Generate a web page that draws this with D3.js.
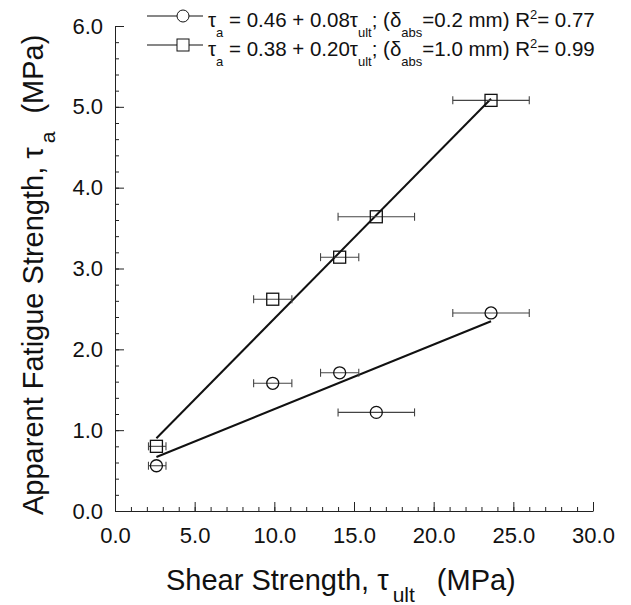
<!DOCTYPE html>
<html>
<head>
<meta charset="utf-8">
<title>Fatigue strength vs shear strength</title>
<style>
  body { margin: 0; background: #fff; }
  text { font-family: "Liberation Sans", Arial, sans-serif; fill: #111; }
</style>
</head>
<body>
<script src="https://cdn.jsdelivr.net/npm/d3@7"></script>
<script>
// shear strength (x) with error range
var tauUlt  = [2.6, 9.9, 14.1, 16.4, 23.6];
var errLow  = [2.1, 8.7, 12.9, 14.0, 21.2];
var errHigh = [3.2, 11.1, 15.3, 18.8, 26.0];
// apparent fatigue strength for the two displacements
var tauA02 = [0.56, 1.58, 1.71, 1.22, 2.45];   // delta_abs = 0.2 mm
var tauA10 = [0.80, 2.62, 3.14, 3.64, 5.08];   // delta_abs = 1.0 mm
// linear fits  tau_a = a + b * tau_ult
var fitA  = [0.46, 0.38];
var fitB  = [0.08, 0.20];
var fitR2 = ["0.77", "0.99"];
var deltaLabels = ["0.2", "1.0"];
var xTicks = [0, 5, 10, 15, 20, 25, 30];
var yTicks = [0, 1, 2, 3, 4, 5, 6];

var width = 631, height = 605;
var mLeft = 115, mRight = 593, mTop = 26, mBottom = 511;

var svg = d3.select("body").append("svg")
    .attr("width", width).attr("height", height);

var x = d3.scaleLinear().domain([0, 30]).range([mLeft, mRight]);
var y = d3.scaleLinear().domain([0, 6]).range([mBottom, mTop]);

// minor ticks
svg.append("g")
    .attr("transform", "translate(0," + mBottom + ")")
    .call(d3.axisTop(x).ticks(30).tickSize(4).tickFormat(""))
    .call(function(g) { g.select(".domain").remove(); });
svg.append("g")
    .attr("transform", "translate(" + mLeft + ",0)")
    .call(d3.axisRight(y).tickValues(d3.range(0, 6.01, 0.2)).tickSize(4).tickFormat(""))
    .call(function(g) { g.select(".domain").remove(); });

// major ticks + labels
var xAxis = svg.append("g")
    .attr("transform", "translate(0," + mBottom + ")")
    .call(d3.axisTop(x).tickValues(xTicks).tickSize(9).tickSizeOuter(0).tickFormat(d3.format(".1f")));
xAxis.selectAll("text").attr("y", 32).attr("font-size", 22);

var yAxis = svg.append("g")
    .attr("transform", "translate(" + mLeft + ",0)")
    .call(d3.axisRight(y).tickValues(yTicks).tickSize(9).tickSizeOuter(0).tickFormat(d3.format(".1f")));
yAxis.selectAll("text").attr("x", -12).attr("text-anchor", "end").attr("font-size", 22);

svg.selectAll(".domain").attr("stroke", "#222");
svg.selectAll(".tick line").attr("stroke", "#222");

// fit lines
var xMin = d3.min(tauUlt), xMax = d3.max(tauUlt);
svg.selectAll(".fit").data(fitA).enter().append("line")
    .attr("x1", x(xMin)).attr("x2", x(xMax))
    .attr("y1", function(a, i) { return y(a + fitB[i] * xMin); })
    .attr("y2", function(a, i) { return y(a + fitB[i] * xMax); })
    .attr("stroke", "#111").attr("stroke-width", 2);

// error bars
function errorBars(vals) {
  var g = svg.append("g").attr("stroke", "#444").attr("stroke-width", 1.1);
  vals.forEach(function(v, i) {
    g.append("line").attr("x1", x(errLow[i])).attr("x2", x(errHigh[i]))
      .attr("y1", y(v)).attr("y2", y(v));
    [errLow[i], errHigh[i]].forEach(function(e) {
      g.append("line").attr("x1", x(e)).attr("x2", x(e))
        .attr("y1", y(v) - 4).attr("y2", y(v) + 4);
    });
  });
}
errorBars(tauA02);
errorBars(tauA10);

// markers
svg.selectAll(".circ").data(tauA02).enter().append("circle")
    .attr("cx", function(d, i) { return x(tauUlt[i]); })
    .attr("cy", function(d) { return y(d); })
    .attr("r", 6).attr("fill", "none").attr("stroke", "#111").attr("stroke-width", 1.3);
svg.selectAll(".sq").data(tauA10).enter().append("rect")
    .attr("x", function(d, i) { return x(tauUlt[i]) - 6; })
    .attr("y", function(d) { return y(d) - 6; })
    .attr("width", 12).attr("height", 12)
    .attr("fill", "none").attr("stroke", "#111").attr("stroke-width", 1.3);

// legend
var lg = svg.append("g").attr("font-size", 20.5);
[0, 1].forEach(function(i) {
  var ly = 16 + i * 29;
  lg.append("line").attr("x1", 147).attr("x2", 203).attr("y1", ly).attr("y2", ly)
    .attr("stroke", "#111").attr("stroke-width", 1.2);
  if (i === 0) {
    lg.append("circle").attr("cx", 183).attr("cy", ly).attr("r", 6)
      .attr("fill", "#fff").attr("stroke", "#111");
  } else {
    lg.append("rect").attr("x", 177).attr("y", ly - 6).attr("width", 12).attr("height", 12)
      .attr("fill", "#fff").attr("stroke", "#111");
  }
  var t = lg.append("text").attr("x", 208).attr("y", ly + 11);
  t.append("tspan").text("\u03c4");
  t.append("tspan").attr("font-size", 13).attr("dy", 10).text("a");
  t.append("tspan").attr("dy", -10).text(" = " + fitA[i].toFixed(2) + " + " + fitB[i].toFixed(2) + "\u03c4");
  t.append("tspan").attr("font-size", 13).attr("dy", 10).text("ult");
  t.append("tspan").attr("dy", -10).text("; (\u03b4");
  t.append("tspan").attr("font-size", 13).attr("dy", 10).text("abs");
  t.append("tspan").attr("dy", -10).text("=" + deltaLabels[i] + " mm)  R");
  t.append("tspan").attr("font-size", 13).attr("dy", -8).text("2");
  t.append("tspan").attr("dy", 8).text("= " + fitR2[i]);
});

// axis titles
var xt = svg.append("text").attr("x", 166).attr("y", 590)
    .attr("text-anchor", "start").attr("font-size", 29);
xt.append("tspan").text("Shear Strength, \u03c4");
xt.append("tspan").attr("font-size", 21).attr("dy", 12).attr("dx", 4).text("ult");
xt.append("tspan").attr("dy", -12).attr("dx", 22).text("(MPa)");

var yt = svg.append("text").attr("transform", "translate(43,515) rotate(-90)")
    .attr("text-anchor", "start").attr("font-size", 29);
yt.append("tspan").text("Apparent Fatigue Strength, \u03c4");
yt.append("tspan").attr("font-size", 21).attr("dy", 12).attr("dx", 4).text("a");
yt.append("tspan").attr("dy", -12).attr("dx", 18).text("(MPa)");
</script>
</body>
</html>
